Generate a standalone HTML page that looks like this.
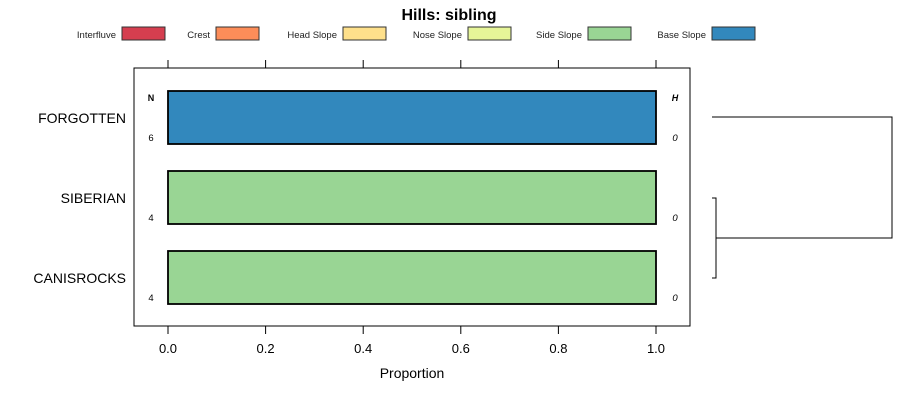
<!DOCTYPE html>
<html><head><meta charset="utf-8"><style>
body{margin:0;background:#fff;width:900px;height:400px;overflow:hidden}
text{font-family:"Liberation Sans",sans-serif}
</style></head><body>
<svg id="c" width="900" height="400" xmlns="http://www.w3.org/2000/svg">
<text x="449" y="20" text-anchor="middle" font-size="16" font-weight="bold">Hills: sibling</text>
<g id="legend"></g>
<rect x="134" y="68" width="556" height="258" fill="none" stroke="#000"/>
<g id="axes"></g>
<g id="bars"></g>
<text x="151" y="101" text-anchor="middle" font-size="9" font-weight="bold">N</text>
<text x="675" y="101" text-anchor="middle" font-size="9" font-weight="bold" font-style="italic">H</text>
<text x="412" y="378" text-anchor="middle" font-size="14">Proportion</text>
<g fill="none" stroke="#000" stroke-width="1">
<path d="M712 117H892V238H716"/>
<path d="M712 198H716V278H712"/>
</g>
</svg>
<script>
const categories=["FORGOTTEN","SIBERIAN","CANISROCKS"];
const nValues=[6,4,4];
const hValues=[0,0,0];
const classes=["Interfluve","Crest","Head Slope","Nose Slope","Side Slope","Base Slope"];
const colors=["#d53e4f","#fc8d59","#fee08b","#e6f598","#99d594","#3288bd"];
const proportions=[[0,0,0,0,0,1],[0,0,0,0,1,0],[0,0,0,0,1,0]];
const ticks=[0,0.2,0.4,0.6,0.8,1.0];
const tickLabels=["0.0","0.2","0.4","0.6","0.8","1.0"];
const ns="http://www.w3.org/2000/svg";
const X=v=>168+v*488;
const Y=i=>91+i*80;
function mk(t,a,p){const e=document.createElementNS(ns,t);for(const k in a)e.setAttribute(k,a[k]);p.appendChild(e);return e;}
const L=document.getElementById('legend');
const lbX=[122,216,343,468,588,712];
classes.forEach((c,i)=>{
 const t=mk('text',{x:lbX[i]-6,y:38,'text-anchor':'end','font-size':9.5,fill:'#222'},L);t.textContent=c;
 
 
 const r=mk('rect',{x:lbX[i],y:27,width:43,height:13,fill:colors[i],stroke:'#333'},L);
 
 
});
const A=document.getElementById('axes');
ticks.forEach((v,i)=>{
 const t1=mk('line',{x1:X(v),x2:X(v),y1:60,y2:68,stroke:'#000'},A);
 
 
 const t2=mk('line',{x1:X(v),x2:X(v),y1:326,y2:334,stroke:'#000'},A);
 
 
 const l=mk('text',{x:X(v),y:353,'text-anchor':'middle','font-size':13},A);l.textContent=tickLabels[i];
 
 
});
const B=document.getElementById('bars');
categories.forEach((c,i)=>{
 let cum=0;
 proportions[i].forEach((p,j)=>{
  if(p>0){const r=mk('rect',{x:X(cum),y:Y(i),width:X(cum+p)-X(cum),height:53,fill:colors[j],stroke:'#000','stroke-width':1.8},B);
  
  }
  cum+=p;
 });
 const lab=mk('text',{x:126,y:Y(i)+32,'text-anchor':'end','font-size':14},B);lab.textContent=c;
 
 
 const n=mk('text',{x:151,y:Y(i)+50,'text-anchor':'middle','font-size':9.5},B);n.textContent=nValues[i];
 
 
 const h=mk('text',{x:675,y:Y(i)+50,'text-anchor':'middle','font-size':9.5,'font-style':'italic'},B);h.textContent=hValues[i];
 
 
});
</script>
</body></html>
